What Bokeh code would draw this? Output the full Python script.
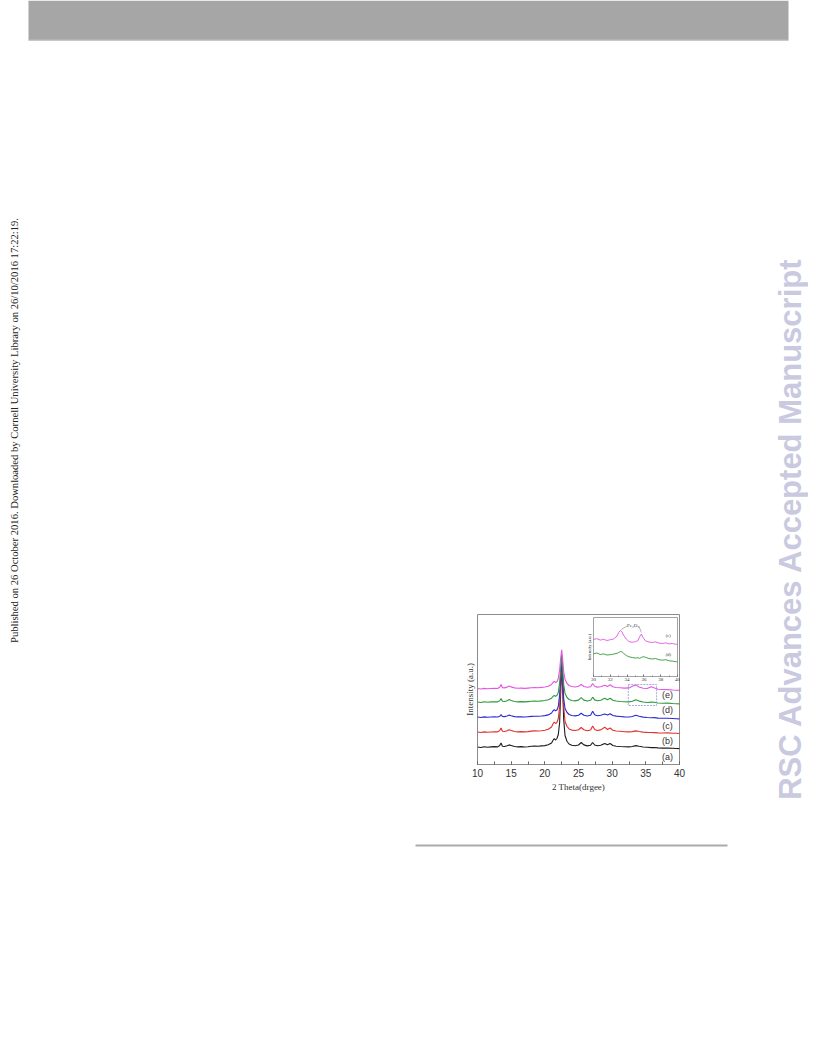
import math
from bokeh.plotting import figure
from bokeh.layouts import column
from bokeh.models import Range1d, Label, SingleIntervalTicker, FixedTicker
from bokeh.embed import file_html
from bokeh.resources import INLINE

# ---------------- data ----------------
two_theta = [10.0, 10.5, 11.0, 11.5, 12.0, 12.5, 13.0, 13.3, 13.5, 13.7, 14.0, 14.4, 14.7, 15.0, 15.5,
             16.0, 16.5, 17.0, 17.5, 18.0, 18.5, 19.0, 19.5, 20.0, 20.5, 21.0, 21.2, 21.4, 21.6, 21.8,
             22.0, 22.2, 22.35, 22.5, 22.65, 22.8, 23.0, 23.3, 23.6, 24.0, 24.5, 25.0, 25.4, 25.8, 26.3,
             26.8, 27.1, 27.4, 27.8, 28.3, 28.9, 29.3, 29.7, 30.1, 30.6, 31.2, 31.8, 32.5, 33.0, 33.5,
             34.0, 34.6, 35.2, 35.8, 36.3, 36.8, 37.5, 38.2, 39.0, 39.5, 40.0]

curve_a = [17.5, 17.0, 17.8, 17.2, 17.6, 17.9, 17.6, 19.0, 21.5, 18.2, 18.0, 18.8, 19.6, 19.0, 18.0,
           17.6, 17.9, 17.5, 17.8, 18.2, 18.5, 18.3, 18.6, 18.9, 19.8, 21.5, 24.0, 25.8, 24.5, 26.0,
           30.0, 42.0, 70.0, 100.0, 75.0, 45.0, 29.0, 23.0, 20.5, 19.2, 18.8, 19.5, 22.0, 19.6, 18.6,
           19.3, 22.0, 19.5, 18.8, 19.2, 21.0, 19.8, 21.0, 19.0, 18.3, 18.0, 17.8, 17.6, 18.0, 18.9,
           18.2, 17.5, 17.2, 16.9, 17.0, 16.6, 16.4, 16.5, 16.2, 16.0, 15.9]
curve_b = [32.5, 32.0, 32.6, 32.2, 32.5, 32.8, 32.6, 34.0, 36.5, 33.3, 33.0, 33.8, 34.8, 34.0, 33.0,
           32.6, 32.9, 32.6, 32.9, 33.4, 33.6, 33.5, 33.8, 34.2, 35.2, 37.5, 40.5, 42.5, 41.0, 42.0,
           46.0, 58.0, 80.0, 104.0, 82.0, 58.0, 43.0, 38.0, 35.6, 34.4, 34.0, 34.8, 37.0, 34.8, 33.8,
           34.5, 38.5, 35.0, 34.0, 34.6, 37.3, 35.0, 36.5, 34.2, 33.5, 33.2, 32.8, 32.6, 32.9, 33.6,
           33.0, 32.4, 32.1, 32.0, 31.9, 31.6, 31.5, 31.6, 31.3, 31.2, 31.0]
curve_c = [47.5, 47.0, 47.6, 47.2, 47.5, 47.7, 47.5, 48.2, 50.0, 48.0, 47.9, 48.5, 49.4, 48.8, 47.9,
           47.6, 47.8, 47.5, 47.8, 48.1, 48.3, 48.2, 48.5, 48.9, 49.6, 51.5, 53.5, 54.8, 53.8, 54.5,
           58.0, 70.0, 88.0, 107.0, 88.0, 66.0, 56.0, 52.0, 50.0, 49.0, 48.6, 49.3, 51.3, 49.3, 48.5,
           49.2, 53.3, 49.8, 48.8, 49.2, 50.5, 49.4, 50.8, 49.0, 48.4, 48.0, 47.6, 47.5, 48.0, 49.2,
           48.2, 47.4, 47.0, 46.8, 46.9, 46.4, 46.2, 46.3, 46.0, 45.8, 45.6]
curve_d = [62.5, 62.0, 62.7, 62.2, 62.6, 62.8, 62.6, 63.8, 66.0, 63.2, 63.0, 63.8, 64.9, 64.0, 63.0,
           62.6, 62.9, 62.6, 62.9, 63.2, 63.4, 63.3, 63.6, 64.0, 64.8, 66.3, 68.0, 69.0, 68.2, 69.0,
           72.0, 82.0, 96.0, 110.0, 95.0, 80.0, 71.0, 67.0, 65.0, 64.0, 63.6, 64.4, 66.8, 64.4, 63.5,
           64.2, 67.3, 64.6, 63.8, 64.3, 66.2, 64.8, 66.3, 64.2, 63.5, 63.0, 62.8, 62.6, 63.2, 64.8,
           63.4, 62.5, 62.0, 62.4, 62.2, 61.5, 61.3, 61.4, 61.0, 60.8, 60.6]
curve_e = [76.0, 75.5, 76.1, 75.7, 76.0, 76.2, 76.0, 77.5, 80.0, 76.8, 76.6, 77.4, 78.4, 77.6, 76.6,
           76.2, 76.4, 76.1, 76.4, 76.7, 76.9, 76.8, 77.1, 77.5, 78.2, 80.0, 82.0, 83.2, 82.0, 82.8,
           86.0, 95.0, 106.0, 114.7, 105.0, 93.0, 85.0, 81.0, 79.0, 78.0, 77.5, 78.2, 80.0, 78.0, 77.2,
           77.8, 81.0, 78.2, 77.4, 77.8, 79.2, 78.0, 79.8, 77.8, 77.0, 76.7, 76.4, 76.6, 78.2, 79.6,
           77.5, 76.3, 76.0, 77.8, 76.5, 75.3, 75.0, 74.9, 74.5, 74.3, 74.1]

series_names = ["(a)", "(b)", "(c)", "(d)", "(e)"]
series_colors = ["#1c1c1c", "#e0302c", "#2a2ad4", "#2f9a3a", "#e256e2"]
series_values = [curve_a, curve_b, curve_c, curve_d, curve_e]

inset_theta = [30.0, 30.4, 30.8, 31.2, 31.6, 32.0, 32.4, 32.8, 33.0, 33.2, 33.4, 33.6, 33.9, 34.2, 34.6,
               35.0, 35.3, 35.5, 35.7, 35.9, 36.2, 36.6, 37.0, 37.4, 37.8, 38.2, 38.6, 39.0, 39.4, 39.8, 40.0]
inset_e = [37.0, 37.8, 36.4, 37.2, 36.0, 36.8, 37.5, 40.5, 44.0, 46.0, 44.5, 41.0, 37.5, 35.0, 34.2,
           34.8, 36.0, 40.0, 42.5, 39.0, 35.5, 34.5, 34.0, 34.6, 33.4, 33.0, 33.6, 32.6, 33.0, 32.2, 32.5]
inset_d = [22.8, 23.5, 22.0, 22.6, 21.5, 21.8, 22.4, 23.2, 24.0, 25.0, 24.6, 23.0, 21.0, 19.8, 19.0,
           18.4, 18.8, 18.2, 19.0, 19.8, 19.2, 18.0, 17.5, 17.9, 16.8, 16.3, 16.8, 15.7, 15.4, 14.8, 14.6]

# ---------------- page ----------------
H = 1040
W = 808
page = figure(width=W, height=H, x_range=Range1d(0, W), y_range=Range1d(H, 0),
              output_backend="svg", toolbar_location=None, min_border=0, frame_align=False)
page.axis.visible = False
page.grid.visible = False
page.outline_line_color = None
page.background_fill_color = "white"
page.border_fill_color = "white"

page.quad(left=28, right=788, top=0, bottom=40, fill_color="#a6a6a6", line_color=None)
page.segment(x0=28, y0=39.5, x1=788, y1=39.5, line_color="#bdbdbd", line_width=1)
page.segment(x0=415, y0=845, x1=727, y1=845, line_color="#ababab", line_width=2)
page.add_layout(Label(x=14, y=430, text="Published on 26 October 2016. Downloaded by Cornell University Library on 26/10/2016 17:22:19.",
                      text_font="Liberation Serif", text_font_size="10.6px", text_color="#222222",
                      text_align="center", text_baseline="middle", angle=math.pi / 2))
page.add_layout(Label(x=790, y=528, text="RSC Advances Accepted Manuscript",
                      text_font="Liberation Sans", text_font_style="bold", text_font_size="31px",
                      text_color="#c9c9df", text_align="center", text_baseline="middle", angle=math.pi / 2))

# ---------------- main chart ----------------
CH = 186
chart = figure(width=235, height=CH, x_range=Range1d(10, 40), y_range=Range1d(0, 150),
               output_backend="svg", toolbar_location=None, frame_align=False,
               min_border_left=22, min_border_right=11, min_border_top=6, min_border_bottom=30)
chart.grid.visible = False
chart.outline_line_color = "#8c8c8c"
chart.outline_line_width = 1
chart.border_fill_alpha = 0

xa = chart.xaxis[0]
xa.ticker = SingleIntervalTicker(interval=5, num_minor_ticks=2)
xa.major_tick_in = 3
xa.major_tick_out = 0
xa.minor_tick_in = 3
xa.minor_tick_out = 0
xa.axis_line_color = None
xa.major_tick_line_color = "#666666"
xa.minor_tick_line_color = "#666666"
xa.major_label_text_font = "Liberation Sans"
xa.major_label_text_font_size = "10px"
xa.major_label_text_color = "#333333"
xa.major_label_standoff = 4
xa.axis_label = "2 Theta(drgee)"
xa.axis_label_text_font = "Liberation Serif"
xa.axis_label_text_font_style = "normal"
xa.axis_label_text_font_size = "9px"
xa.axis_label_text_color = "#333333"
xa.axis_label_standoff = 2

ya = chart.yaxis[0]
ya.ticker = FixedTicker(ticks=[])
ya.major_tick_in = 0
ya.major_tick_out = 0
ya.minor_tick_in = 0
ya.minor_tick_out = 0
ya.axis_line_color = None
ya.axis_label = "Intensity (a.u.)"
ya.axis_label_text_font = "Liberation Serif"
ya.axis_label_text_font_style = "normal"
ya.axis_label_text_font_size = "9px"
ya.axis_label_text_color = "#333333"
ya.axis_label_standoff = 3

for name, color, vals in zip(series_names, series_colors, series_values):
    chart.line(two_theta, vals, line_color=color, line_width=1.1)

label_y = [8, 24, 39, 55, 70]
for name, ly in zip(series_names, label_y):
    chart.add_layout(Label(x=38.2, y=ly, text=name, text_font="Liberation Sans", text_font_size="9px",
                           text_color="#333333", text_align="center", text_baseline="middle"))

chart.quad(left=32.4, right=36.6, bottom=59, top=80, fill_alpha=0, line_color="#8a9bd0",
           line_dash="2 1", line_width=0.8)

chart.margin = (-(H - 608), 0, 0, 455)

# ---------------- inset ----------------
inset = figure(width=97, height=71, x_range=Range1d(30, 40), y_range=Range1d(0, 59),
               output_backend="svg", toolbar_location=None, frame_align=False,
               min_border_left=10, min_border_right=3, min_border_top=4, min_border_bottom=8)
inset.grid.visible = False
inset.outline_line_color = "#8c8c8c"
inset.outline_line_width = 0.8
inset.border_fill_alpha = 0
inset.background_fill_color = "white"

ix = inset.xaxis[0]
ix.ticker = SingleIntervalTicker(interval=2, num_minor_ticks=2)
ix.major_tick_in = 2
ix.major_tick_out = 0
ix.minor_tick_in = 1
ix.minor_tick_out = 0
ix.axis_line_color = None
ix.major_tick_line_color = "#777777"
ix.minor_tick_line_color = "#777777"
ix.major_label_text_font = "Liberation Serif"
ix.major_label_text_font_size = "5px"
ix.major_label_text_color = "#333333"
ix.major_label_standoff = 1

iy = inset.yaxis[0]
iy.ticker = FixedTicker(ticks=[])
iy.major_tick_in = 0
iy.major_tick_out = 0
iy.minor_tick_in = 0
iy.minor_tick_out = 0
iy.axis_line_color = None
iy.axis_label = "Intensity (a.u.)"
iy.axis_label_text_font = "Liberation Serif"
iy.axis_label_text_font_style = "normal"
iy.axis_label_text_font_size = "4.5px"
iy.axis_label_text_color = "#333333"
iy.axis_label_standoff = 2

inset.line(inset_theta, inset_e, line_color=series_colors[4], line_width=0.9)
inset.line(inset_theta, inset_d, line_color=series_colors[3], line_width=0.9)
inset.add_layout(Label(x=38.9, y=41, text="(e)", text_font="Liberation Serif", text_font_size="4.5px",
                       text_color="#333333", text_align="center", text_baseline="middle"))
inset.add_layout(Label(x=38.9, y=22, text="(d)", text_font="Liberation Serif", text_font_size="4.5px",
                       text_color="#333333", text_align="center", text_baseline="middle"))
inset.add_layout(Label(x=34.7, y=51, text="Fe₃O₄", text_font="Liberation Serif", text_font_size="5px",
                       text_color="#333333", text_align="center", text_baseline="middle"))
inset.segment(x0=[34.0, 35.4], y0=[50.5, 50.5], x1=[33.3, 35.7], y1=[47.0, 44.0],
              line_color="#666666", line_width=0.5)

inset.margin = (-(608 + CH - 613), 0, 0, 583)

root = column(page, chart, inset)
open("out.html", "w").write(file_html(root, INLINE))
